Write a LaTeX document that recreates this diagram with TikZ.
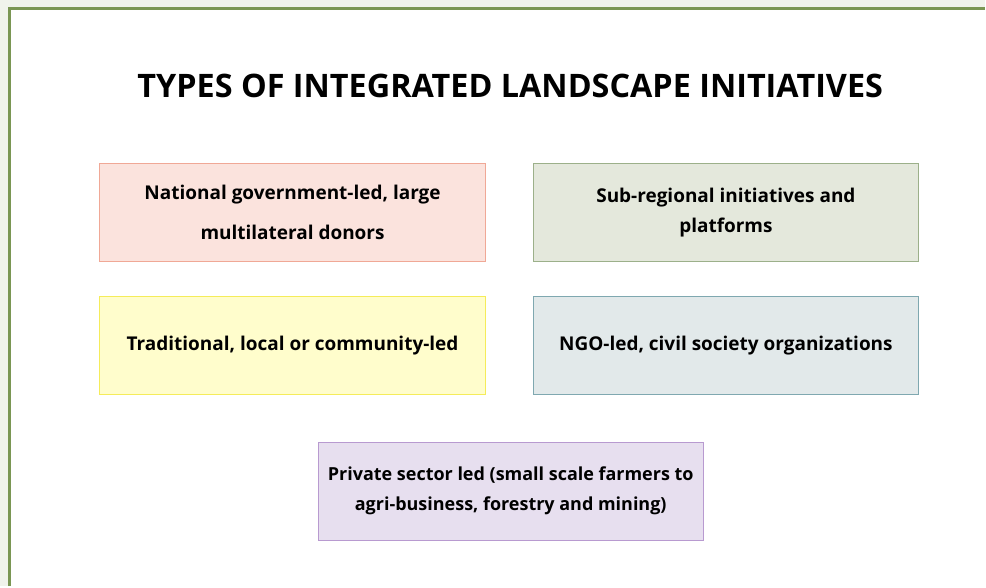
\documentclass[tikz,border=0pt]{standalone}
\usepackage{fontspec}
\setmainfont{Open Sans}
\usetikzlibrary{positioning}
\definecolor{pagecolor}{RGB}{240,243,235}
\definecolor{framecolor}{RGB}{122,150,83}
\definecolor{natfill}{RGB}{251,227,221}
\definecolor{natline}{RGB}{240,168,150}
\definecolor{subfill}{RGB}{228,232,220}
\definecolor{subline}{RGB}{156,176,138}
\definecolor{tradfill}{RGB}{255,253,204}
\definecolor{tradline}{RGB}{245,236,90}
\definecolor{ngofill}{RGB}{226,233,234}
\definecolor{ngoline}{RGB}{127,168,176}
\definecolor{privfill}{RGB}{231,223,239}
\definecolor{privline}{RGB}{184,154,208}

\begin{document}
\begin{tikzpicture}[
    x=1pt, y=-1pt,
    node distance=34pt and 47pt,
    typebox/.style={rectangle, draw, line width=1pt, inner xsep=0pt, minimum width=386pt, minimum height=98pt, align=center, font=\fontsize{19}{30}\selectfont\bfseries},
    title/.style={font=\fontsize{32.4}{36}\selectfont\bfseries}
]
% page and frame
\fill[pagecolor] (0,0) rectangle (986,587);
\fill[white] (10,9) rectangle (986,587);
\draw[framecolor, line width=3pt] (10,587) -- (10,9) -- (986,9);

\node[title] (head) at (511,86) {TYPES OF INTEGRATED LANDSCAPE INITIATIVES};

\node[typebox, fill=natfill, draw=natline] (nat) at (293,213) {National government-led, large\\[10pt]multilateral donors};
\node[typebox, fill=subfill, draw=subline, right=of nat] (sub) {Sub-regional initiatives and\\platforms};
\node[typebox, fill=tradfill, draw=tradline, below=of nat] (trad) {Traditional, local or community-led};
\node[typebox, fill=ngofill, draw=ngoline, below=of sub] (ngo) {NGO-led, civil society organizations};
\node[typebox, fill=privfill, draw=privline, font=\fontsize{18}{30}\selectfont\bfseries] (priv) at (511.5,492) {Private sector led (small scale farmers to\\agri-business, forestry and mining)};
\end{tikzpicture}
\end{document}
